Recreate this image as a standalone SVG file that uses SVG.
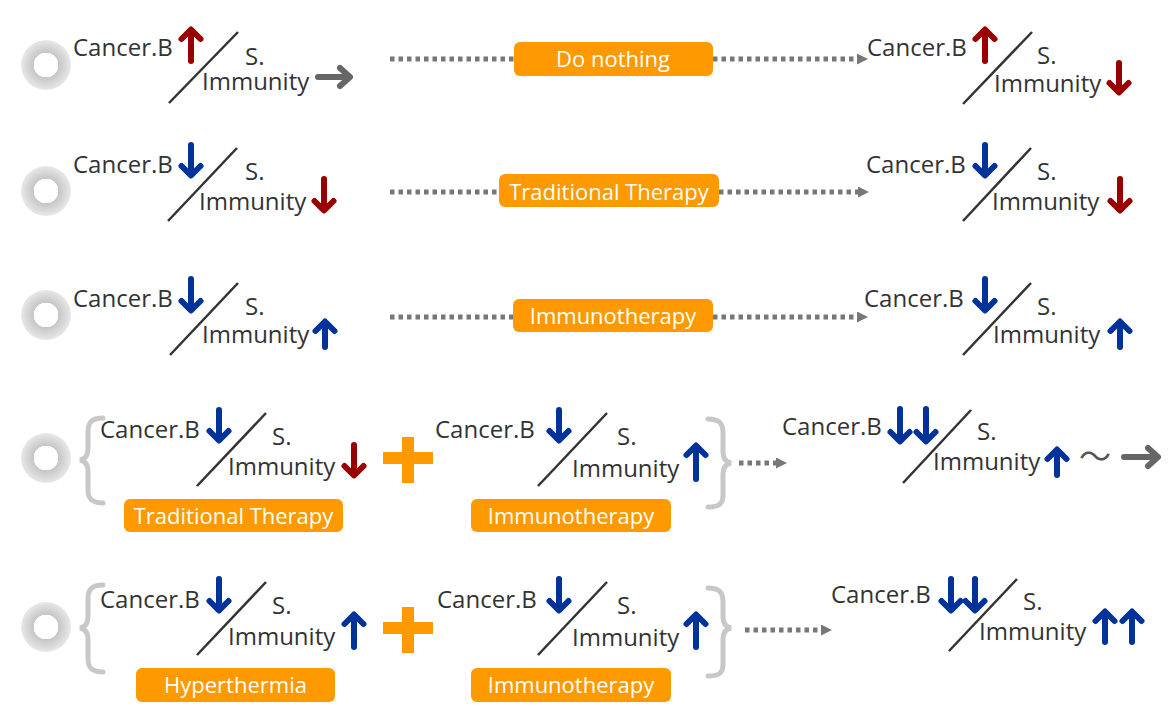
<svg xmlns="http://www.w3.org/2000/svg" width="1170" height="723" viewBox="0 0 1170 723">
<style>
.t{font-family:"Open Sans","Noto Sans",sans-serif;font-size:24px;fill:#333}
.bt{font-family:"Open Sans","Noto Sans",sans-serif;font-size:22px;fill:#fff;text-anchor:middle}
.box{fill:#ff9900}
.sl{stroke:#333;stroke-width:2.5;fill:none}
.red{stroke:#990000;stroke-width:6;fill:none;stroke-linecap:round;stroke-linejoin:round}
.blue{stroke:#003399;stroke-width:6;fill:none;stroke-linecap:round;stroke-linejoin:round}
.gray{stroke:#666;stroke-width:6;fill:none;stroke-linecap:round;stroke-linejoin:round}
.dot{stroke:#777;stroke-width:5;stroke-dasharray:4.5 4;fill:none}
.brace{stroke:#c8c8c8;stroke-width:5;fill:none;stroke-linecap:round}
.plus{fill:#ff9900}
</style>
<defs>
<radialGradient id="ring">
<stop offset="0" stop-color="#fff"/>
<stop offset="0.49" stop-color="#fff"/>
<stop offset="0.5" stop-color="#c6c6c6"/>
<stop offset="0.8" stop-color="#dadada"/>
<stop offset="1" stop-color="#e8e8e8"/>
</radialGradient>
<marker id="tri" markerUnits="userSpaceOnUse" markerWidth="11" markerHeight="11" viewBox="0 0 10 10" refX="0" refY="5" orient="auto">
<path d="M0,0 L10,5 L0,10 z" fill="#777"/>
</marker>
</defs>
<rect width="1170" height="723" fill="#fff"/>

<g id="bullets">
<circle cx="46" cy="65" r="25" fill="url(#ring)"/>
<circle cx="46" cy="191" r="25" fill="url(#ring)"/>
<circle cx="46" cy="315" r="25" fill="url(#ring)"/>
<circle cx="46" cy="458" r="25" fill="url(#ring)"/>
<circle cx="46" cy="627" r="25" fill="url(#ring)"/>
</g>

<g id="connectors">
<path class="dot" d="M390,59 H514"/>
<path class="dot" d="M713,59 H857" marker-end="url(#tri)"/>
<path class="dot" d="M390,192 H499"/>
<path class="dot" d="M719,192 H858" marker-end="url(#tri)"/>
<path class="dot" d="M390,317 H513"/>
<path class="dot" d="M713,317 H857" marker-end="url(#tri)"/>
<path class="dot" d="M739,463 H776" marker-end="url(#tri)"/>
<path class="dot" d="M745,630 H821" marker-end="url(#tri)"/>
</g>

<g id="r1-left">
<text class="t" x="73" y="56">Cancer.B</text>
<text class="t" x="245" y="65">S.</text>
<text class="t" x="202" y="90">Immunity</text>
<line class="sl" x1="169" y1="103" x2="238" y2="32"/>
<path class="red" d="M191,61V30M181.5,39L191,29.5L200.5,39"/>
<path class="gray" d="M318,77H349M340,68L350,77L340,86"/>
</g>
<g id="r1-box">
<rect class="box" x="514" y="42" width="199" height="34" rx="6"/>
<text class="bt" x="613" y="67">Do nothing</text>
</g>
<g id="r1-right">
<text class="t" x="867" y="56">Cancer.B</text>
<text class="t" x="1037" y="64">S.</text>
<text class="t" x="994" y="92">Immunity</text>
<line class="sl" x1="963" y1="104" x2="1032" y2="32"/>
<path class="red" d="M985,61V30M975.5,39L985,29.5L994.5,39"/>
<path class="red" d="M1119,63V92M1109.5,83L1119,92.5L1128.5,83"/>
</g>

<g id="r2-left">
<text class="t" x="73" y="173">Cancer.B</text>
<text class="t" x="245" y="180">S.</text>
<text class="t" x="199" y="210">Immunity</text>
<line class="sl" x1="168" y1="221" x2="237" y2="148"/>
<path class="blue" d="M191,145V175M181.5,166L191,175.5L200.5,166"/>
<path class="red" d="M324,179V210M314.5,201L324,210.5L333.5,201"/>
</g>
<g id="r2-box">
<rect class="box" x="499" y="174" width="220" height="33" rx="6"/>
<text class="bt" x="609" y="200">Traditional Therapy</text>
</g>
<g id="r2-right">
<text class="t" x="866" y="173">Cancer.B</text>
<text class="t" x="1037" y="180">S.</text>
<text class="t" x="992" y="210">Immunity</text>
<line class="sl" x1="963" y1="221" x2="1031" y2="148"/>
<path class="blue" d="M985,145V175M975.5,166L985,175.5L994.5,166"/>
<path class="red" d="M1120,179V210M1110.5,201L1120,210.5L1129.5,201"/>
</g>

<g id="r3-left">
<text class="t" x="73" y="307">Cancer.B</text>
<text class="t" x="245" y="315">S.</text>
<text class="t" x="202" y="343">Immunity</text>
<line class="sl" x1="170" y1="355" x2="238" y2="283"/>
<path class="blue" d="M191,279V310M181.5,301L191,310.5L200.5,301"/>
<path class="blue" d="M325,347V322M315.5,331L325,321.5L334.5,331"/>
</g>
<g id="r3-box">
<rect class="box" x="513" y="299" width="200" height="33" rx="6"/>
<text class="bt" x="613" y="324">Immunotherapy</text>
</g>
<g id="r3-right">
<text class="t" x="864" y="307">Cancer.B</text>
<text class="t" x="1037" y="315">S.</text>
<text class="t" x="993" y="343">Immunity</text>
<line class="sl" x1="963" y1="355" x2="1031" y2="283"/>
<path class="blue" d="M985,279V310M975.5,301L985,310.5L994.5,301"/>
<path class="blue" d="M1120,347V322M1110.5,331L1120,321.5L1129.5,331"/>
</g>

<g id="r4-left">
<path class="brace" d="M103,418 C92,418 88,422 88,432 L88,449 C88,456 85,459 80,460 C85,461 88,464 88,471 L88,490 C88,499 92,503 103,503"/>
<text class="t" x="100" y="438">Cancer.B</text>
<text class="t" x="272" y="445">S.</text>
<text class="t" x="228" y="475">Immunity</text>
<line class="sl" x1="197" y1="486" x2="266" y2="413"/>
<path class="blue" d="M219,410V440M209.5,431L219,440.5L228.5,431"/>
<path class="red" d="M354,445V475M344.5,466L354,475.5L363.5,466"/>
<rect class="box" x="124" y="499" width="219" height="33" rx="6"/>
<text class="bt" x="233.5" y="524">Traditional Therapy</text>
</g>
<g id="r4-plus">
<rect class="plus" x="383" y="452" width="50" height="12"/>
<rect class="plus" x="402" y="437" width="12" height="46"/>
</g>
<g id="r4-mid">
<text class="t" x="435" y="438">Cancer.B</text>
<text class="t" x="617" y="445">S.</text>
<text class="t" x="572" y="477">Immunity</text>
<line class="sl" x1="538" y1="486" x2="607" y2="413"/>
<path class="blue" d="M559,410V440M549.5,431L559,440.5L568.5,431"/>
<path class="blue" d="M696,479V447M686.5,455L696,445.5L705.5,455"/>
<rect class="box" x="471" y="499" width="200" height="33" rx="6"/>
<text class="bt" x="571" y="524">Immunotherapy</text>
<path class="brace" d="M708,419 C719,419 723,423 723,433 L723,452 C723,459 726,462 731,463 C726,464 723,467 723,474 L723,495 C723,504 719,507 708,507"/>
</g>
<g id="r4-right">
<text class="t" x="782" y="435">Cancer.B</text>
<text class="t" x="977" y="440">S.</text>
<text class="t" x="933" y="470">Immunity</text>
<line class="sl" x1="903" y1="483" x2="971" y2="410"/>
<path class="blue" d="M900,409V441M890.5,432L900,441.5L909.5,432"/>
<path class="blue" d="M926,409V441M916.5,432L926,441.5L935.5,432"/>
<path class="blue" d="M1057,475V451M1047.5,459L1057,449.5L1066.5,459"/>
<text x="1079" y="468" style="font-family:'Noto Sans CJK JP',sans-serif;font-size:32px;fill:#555">～</text>
<path class="gray" d="M1124,457H1157M1148,448L1158,457L1148,466"/>
</g>

<g id="r5-left">
<path class="brace" d="M103,585 C92,585 88,589 88,599 L88,617 C88,624 85,627 80,628 C85,629 88,632 88,639 L88,659 C88,668 92,672 103,672"/>
<text class="t" x="100" y="608">Cancer.B</text>
<text class="t" x="272" y="614">S.</text>
<text class="t" x="228" y="645">Immunity</text>
<line class="sl" x1="197" y1="655" x2="266" y2="582"/>
<path class="blue" d="M219,579V610M209.5,601L219,610.5L228.5,601"/>
<path class="blue" d="M354,647V616M344.5,624L354,614.5L363.5,624"/>
<rect class="box" x="136" y="668" width="199" height="34" rx="6"/>
<text class="bt" x="235.5" y="693">Hyperthermia</text>
</g>
<g id="r5-plus">
<rect class="plus" x="383" y="622" width="50" height="12"/>
<rect class="plus" x="402" y="607" width="12" height="46"/>
</g>
<g id="r5-mid">
<text class="t" x="437" y="608">Cancer.B</text>
<text class="t" x="617" y="614">S.</text>
<text class="t" x="572" y="646">Immunity</text>
<line class="sl" x1="538" y1="655" x2="607" y2="582"/>
<path class="blue" d="M559,579V610M549.5,601L559,610.5L568.5,601"/>
<path class="blue" d="M696,647V616M686.5,624L696,614.5L705.5,624"/>
<rect class="box" x="471" y="668" width="200" height="34" rx="6"/>
<text class="bt" x="571" y="693">Immunotherapy</text>
<path class="brace" d="M708,588 C719,588 723,592 723,602 L723,617 C723,624 726,627 731,628 C726,629 723,632 723,639 L723,664 C723,673 719,676 708,676"/>
</g>
<g id="r5-right">
<text class="t" x="831" y="603">Cancer.B</text>
<text class="t" x="1023" y="610">S.</text>
<text class="t" x="979" y="640">Immunity</text>
<line class="sl" x1="949" y1="651" x2="1017" y2="579"/>
<path class="blue" d="M951,579V610M941.5,601L951,610.5L960.5,601"/>
<path class="blue" d="M975,579V610M965.5,601L975,610.5L984.5,601"/>
<path class="blue" d="M1105,642V613M1095.5,621L1105,611.5L1114.5,621"/>
<path class="blue" d="M1132,642V613M1122.5,621L1132,611.5L1141.5,621"/>
</g>
</svg>
